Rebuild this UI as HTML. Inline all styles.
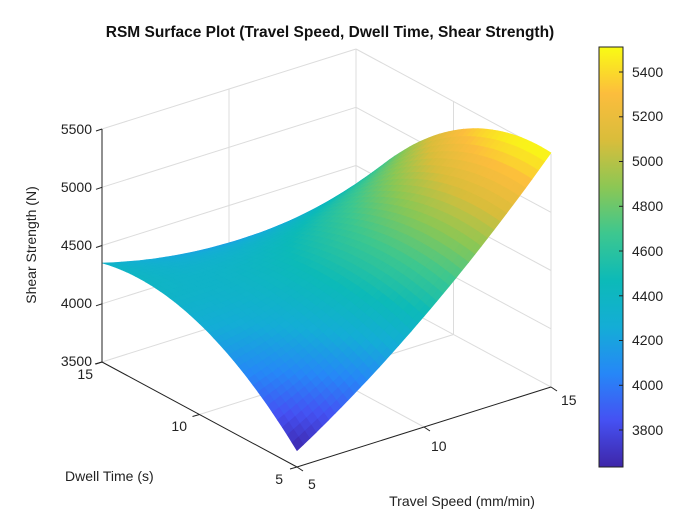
<!DOCTYPE html>
<html><head><meta charset="utf-8">
<style>
html,body{margin:0;padding:0;background:#fff;}
svg{display:block;font-family:"Liberation Sans",Arial,sans-serif;}
</style></head>
<body>
<svg id="s" width="696" height="520" viewBox="0 0 696 520" xmlns="http://www.w3.org/2000/svg">
<defs>
<linearGradient id="cb" x1="0" y1="1" x2="0" y2="0">
<stop offset="0" stop-color="rgb(62,38,168)"/>
<stop offset="0.111" stop-color="rgb(69,81,243)"/>
<stop offset="0.222" stop-color="rgb(38,135,247)"/>
<stop offset="0.333" stop-color="rgb(20,173,214)"/>
<stop offset="0.444" stop-color="rgb(12,186,184)"/>
<stop offset="0.556" stop-color="rgb(61,199,143)"/>
<stop offset="0.667" stop-color="rgb(140,199,84)"/>
<stop offset="0.778" stop-color="rgb(217,189,59)"/>
<stop offset="0.889" stop-color="rgb(252,189,61)"/>
<stop offset="1" stop-color="rgb(249,251,20)"/>
</linearGradient>
</defs>
<rect width="696" height="520" fill="#fff"/>
<text x="330" y="37" text-anchor="middle" font-size="15.5" font-weight="bold" fill="#111">RSM Surface Plot (Travel Speed, Dwell Time, Shear Strength)</text>
<g id="grid" stroke="#dcdcdc" stroke-width="1" fill="none"></g>
<g id="surf"></g>
<g id="axes" stroke="#222" stroke-width="1" fill="none"></g>
<g font-size="14" fill="#222">
<text x="92" y="134" text-anchor="end">5500</text>
<text x="92" y="192" text-anchor="end">5000</text>
<text x="92" y="250" text-anchor="end">4500</text>
<text x="92" y="308" text-anchor="end">4000</text>
<text x="92" y="366" text-anchor="end">3500</text>
<text x="93" y="379" text-anchor="end">15</text>
<text x="187" y="431" text-anchor="end">10</text>
<text x="283" y="484" text-anchor="end">5</text>
<text x="308" y="489">5</text>
<text x="431" y="451">10</text>
<text x="561" y="405">15</text>
<text x="36" y="245" text-anchor="middle" transform="rotate(-90 36 245)">Shear Strength (N)</text>
<text x="65" y="481">Dwell Time (s)</text>
<text x="462" y="506" text-anchor="middle">Travel Speed (mm/min)</text>
</g>
<rect x="599" y="47" width="24" height="420" fill="url(#cb)" stroke="#222" stroke-width="1"/>
<g id="cbt" stroke="#222"></g>
<g font-size="14" fill="#222">
<text x="632" y="77">5400</text>
<text x="632" y="121">5200</text>
<text x="632" y="166">5000</text>
<text x="632" y="211">4800</text>
<text x="632" y="256">4600</text>
<text x="632" y="301">4400</text>
<text x="632" y="345">4200</text>
<text x="632" y="390">4000</text>
<text x="632" y="435">3800</text>
</g>
</svg>
<script>
(function(){
var NS="http://www.w3.org/2000/svg";
function el(p,n,a){var e=document.createElementNS(NS,n);for(var k in a)e.setAttribute(k,a[k]);p.appendChild(e);return e;}
var O=[297,467],U=[254,-80],V=[-195,-105],ZS=233/2000;
function P(u,v,z){return [O[0]+u*U[0]+v*V[0], O[1]+u*U[1]+v*V[1]-(z-3500)*ZS];}
var g=document.getElementById('grid');
function line(p,a,b){el(p,'line',{x1:a[0].toFixed(1),y1:a[1].toFixed(1),x2:b[0].toFixed(1),y2:b[1].toFixed(1)});}
for(var z=3500;z<=5500;z+=500){line(g,P(0,1,z),P(1,1,z));line(g,P(1,1,z),P(1,0,z));}
[0.5,1].forEach(function(u){line(g,P(u,1,3500),P(u,1,5500));});
[0.5,0].forEach(function(v){line(g,P(1,v,3500),P(1,v,5500));});
line(g,P(0.5,0,3500),P(0.5,1,3500));line(g,P(0,0.5,3500),P(1,0.5,3500));
var G=[[3640,4450,5510],[4280,4550,5250],[4350,4180,4300]];
function L(t){return [t*(t-1)/2,1-t*t,t*(t+1)/2];}
function f(u,v){var a=L(2*u-1),b=L(2*v-1),r=0;for(var i=0;i<3;i++)for(var j=0;j<3;j++)r+=b[i]*a[j]*G[i][j];return r;}
var st=[[62,38,168],[69,81,243],[38,135,247],[20,173,214],[12,186,184],[61,199,143],[140,199,84],[217,189,59],[252,189,61],[249,251,20]];
function cm(z){var t=(z-3635)/(5512-3635);t=Math.max(0,Math.min(1,t))*9;var i=Math.min(8,Math.floor(t)),w=t-i;var c=st[i].map(function(x,k){return Math.round(x+(st[i+1][k]-x)*w);});return 'rgb('+c+')';}
var N=40,q=[];
for(var i=0;i<N;i++)for(var j=0;j<N;j++){var u0=i/N,u1=(i+1)/N,v0=j/N,v1=(j+1)/N;
var pts=[[u0,v0],[u1,v0],[u1,v1],[u0,v1]].map(function(p){return P(p[0],p[1],f(p[0],p[1]));});
var zc=f((u0+u1)/2,(v0+v1)/2);var depth=O[1]+((u0+u1)/2)*U[1]+((v0+v1)/2)*V[1];
q.push({d:depth,p:pts,c:cm(zc)});}
q.sort(function(a,b){return a.d-b.d;});
var s=document.getElementById('surf');
q.forEach(function(o){el(s,'polygon',{points:o.p.map(function(p){return p[0].toFixed(1)+','+p[1].toFixed(1);}).join(' '),fill:o.c,stroke:o.c,'stroke-width':'0.6'});});
var ax=document.getElementById('axes');
line(ax,P(0,1,3500),P(0,1,5500));
line(ax,P(0,1,3500),P(0,0,3500));
line(ax,P(0,0,3500),P(1,0,3500));
for(var z=3500;z<=5500;z+=500){var p=P(0,1,z);line(ax,p,[p[0]-6,p[1]+2]);}
[1,0.5,0].forEach(function(v){var p=P(0,v,3500);line(ax,p,[p[0]-7,p[1]+2]);});
[0,0.5,1].forEach(function(u){var p=P(u,0,3500);line(ax,p,[p[0]+6,p[1]+4]);});
var cb=document.getElementById('cbt');
for(var k=0;k<9;k++){var y=72+k*44.75;line(cb,[619,y],[623,y]);}
})();
</script>
</body></html>
